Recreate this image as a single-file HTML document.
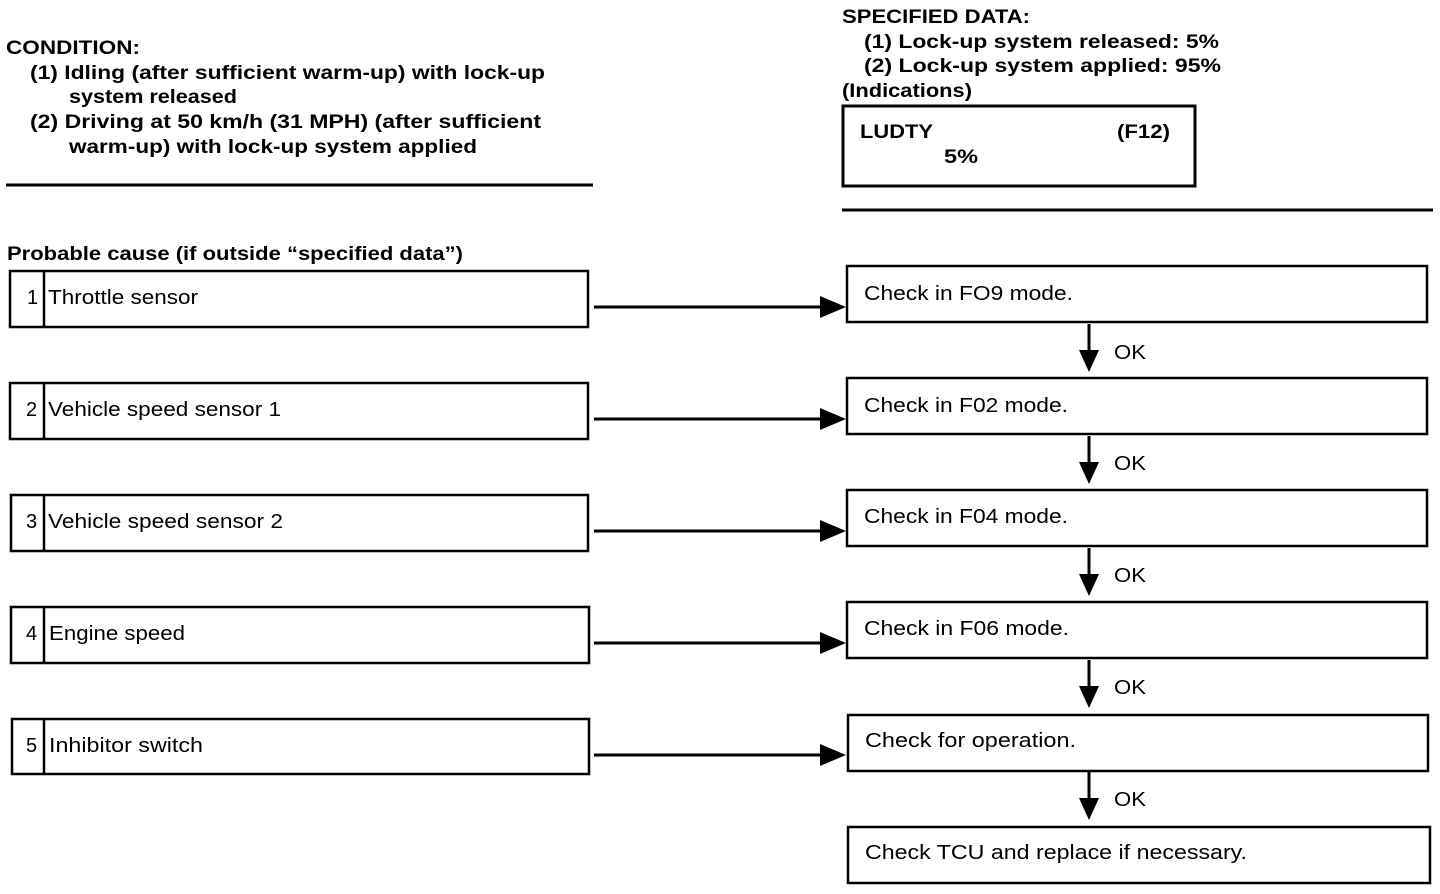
<!DOCTYPE html>
<html><head><meta charset="utf-8"><style>
body{margin:0;background:#fff;}
svg{display:block}
text{font-family:"Liberation Sans",sans-serif;fill:#000}
.b{font-weight:bold;font-size:19px}
.n{font-size:20px}
</style></head><body>
<svg width="1440" height="894" viewBox="0 0 1440 894">
<g class="b" lengthAdjust="spacingAndGlyphs">
<text x="6" y="54" textLength="134" lengthAdjust="spacingAndGlyphs">CONDITION:</text>
<text x="30" y="79" textLength="515" lengthAdjust="spacingAndGlyphs">(1)  Idling (after sufficient warm-up) with lock-up</text>
<text x="69" y="103" textLength="168" lengthAdjust="spacingAndGlyphs">system released</text>
<text x="30" y="128" textLength="511" lengthAdjust="spacingAndGlyphs">(2)  Driving at 50 km/h (31 MPH) (after sufficient</text>
<text x="69" y="153" textLength="408" lengthAdjust="spacingAndGlyphs">warm-up) with lock-up system applied</text>
<text x="842" y="23" textLength="188" lengthAdjust="spacingAndGlyphs">SPECIFIED DATA:</text>
<text x="864" y="48" textLength="355" lengthAdjust="spacingAndGlyphs">(1)  Lock-up system released: 5%</text>
<text x="864" y="72" textLength="357" lengthAdjust="spacingAndGlyphs">(2)  Lock-up system applied: 95%</text>
<text x="842" y="97" textLength="130" lengthAdjust="spacingAndGlyphs">(Indications)</text>
<text x="860" y="138" textLength="73" lengthAdjust="spacingAndGlyphs">LUDTY</text>
<text x="1117" y="138" textLength="53" lengthAdjust="spacingAndGlyphs">(F12)</text>
<text x="944" y="163" textLength="34" lengthAdjust="spacingAndGlyphs">5%</text>
<text x="7" y="260" textLength="456" lengthAdjust="spacingAndGlyphs">Probable cause (if outside “specified data”)</text>
</g>
<rect x="843" y="106" width="352" height="80" fill="none" stroke="#000" stroke-width="3"/>
<line x1="6" y1="185" x2="593" y2="185" stroke="#000" stroke-width="3"/>
<line x1="842" y1="210" x2="1433" y2="210" stroke="#000" stroke-width="3"/>
<g fill="none" stroke="#000" stroke-width="2.5">
<rect x="10" y="271" width="578" height="56"/><line x1="44" y1="271" x2="44" y2="327"/>
<rect x="10" y="383" width="578" height="56"/><line x1="44" y1="383" x2="44" y2="439"/>
<rect x="11" y="495" width="577" height="56"/><line x1="44" y1="495" x2="44" y2="551"/>
<rect x="11" y="607" width="578" height="56"/><line x1="44" y1="607" x2="44" y2="663"/>
<rect x="12" y="719" width="577" height="55"/><line x1="44" y1="719" x2="44" y2="774"/>
<rect x="847" y="266" width="580" height="56"/>
<rect x="847" y="378" width="580" height="56"/>
<rect x="847" y="490" width="580" height="56"/>
<rect x="847" y="602" width="580" height="56"/>
<rect x="848" y="715" width="580" height="56"/>
<rect x="848" y="827" width="582" height="56"/>
</g>
<g stroke="#000" stroke-width="3">
<line x1="594" y1="307" x2="826" y2="307"/>
<line x1="594" y1="419" x2="826" y2="419"/>
<line x1="594" y1="531" x2="826" y2="531"/>
<line x1="594" y1="643" x2="826" y2="643"/>
<line x1="594" y1="755" x2="826" y2="755"/>
<line x1="1089" y1="324" x2="1089" y2="355"/>
<line x1="1089" y1="436" x2="1089" y2="467"/>
<line x1="1089" y1="548" x2="1089" y2="579"/>
<line x1="1089" y1="660" x2="1089" y2="691"/>
<line x1="1089" y1="772" x2="1089" y2="803"/>
</g>
<g fill="#000">
<polygon points="820,296 846,307 820,318"/>
<polygon points="820,408 846,419 820,430"/>
<polygon points="820,520 846,531 820,542"/>
<polygon points="820,632 846,643 820,654"/>
<polygon points="820,744 846,755 820,766"/>
<polygon points="1079,350 1099,350 1089,372"/>
<polygon points="1079,462 1099,462 1089,484"/>
<polygon points="1079,574 1099,574 1089,596"/>
<polygon points="1079,686 1099,686 1089,708"/>
<polygon points="1079,798 1099,798 1089,820"/>
</g>
<g class="n">
<text x="27" y="304">1</text><text x="48" y="304" textLength="150" lengthAdjust="spacingAndGlyphs">Throttle sensor</text>
<text x="26" y="416">2</text><text x="48" y="416" textLength="233" lengthAdjust="spacingAndGlyphs">Vehicle speed sensor 1</text>
<text x="26" y="528">3</text><text x="48" y="528" textLength="235" lengthAdjust="spacingAndGlyphs">Vehicle speed sensor 2</text>
<text x="26" y="640">4</text><text x="49" y="640" textLength="136" lengthAdjust="spacingAndGlyphs">Engine speed</text>
<text x="26" y="752">5</text><text x="49" y="752" textLength="154" lengthAdjust="spacingAndGlyphs">Inhibitor switch</text>
<text x="864" y="300" textLength="209" lengthAdjust="spacingAndGlyphs">Check in FO9 mode.</text>
<text x="864" y="412" textLength="204" lengthAdjust="spacingAndGlyphs">Check in F02 mode.</text>
<text x="864" y="523" textLength="204" lengthAdjust="spacingAndGlyphs">Check in F04 mode.</text>
<text x="864" y="635" textLength="205" lengthAdjust="spacingAndGlyphs">Check in F06 mode.</text>
<text x="865" y="747" textLength="211" lengthAdjust="spacingAndGlyphs">Check for operation.</text>
<text x="865" y="859" textLength="382" lengthAdjust="spacingAndGlyphs">Check TCU and replace if necessary.</text>
<text x="1114" y="359" textLength="32" lengthAdjust="spacingAndGlyphs">OK</text>
<text x="1114" y="470" textLength="32" lengthAdjust="spacingAndGlyphs">OK</text>
<text x="1114" y="582" textLength="32" lengthAdjust="spacingAndGlyphs">OK</text>
<text x="1114" y="694" textLength="32" lengthAdjust="spacingAndGlyphs">OK</text>
<text x="1114" y="806" textLength="32" lengthAdjust="spacingAndGlyphs">OK</text>
</g>
</svg>
</body></html>
